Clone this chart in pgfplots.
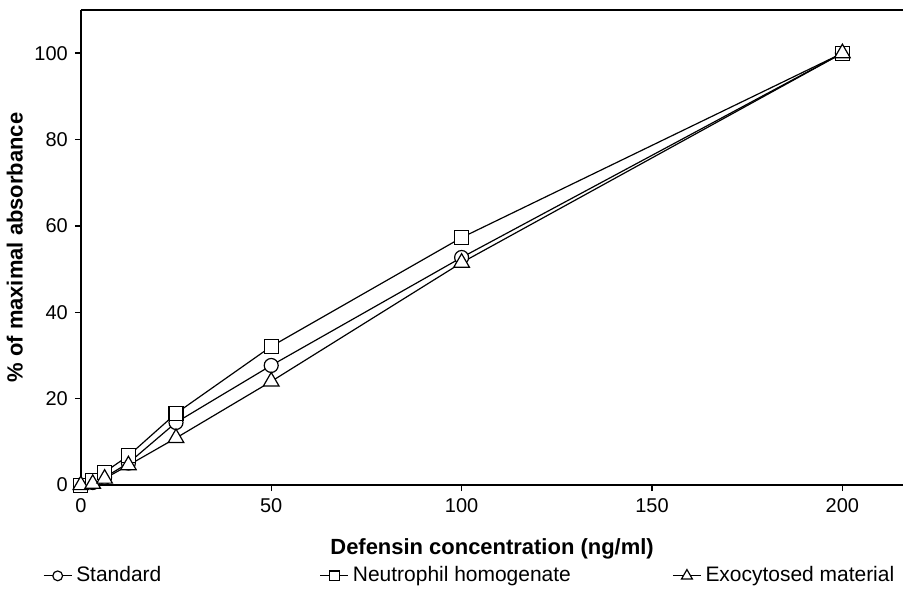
\documentclass[border=0pt]{standalone}
\usepackage{pgfplots}
\pgfplotsset{compat=1.18}
\usepackage{fontspec}
\setmainfont{Liberation Sans}

\begin{document}
\begin{tikzpicture}
    \begin{axis}[
            scale only axis,
            width=412pt,
            height=238pt,
            xmin=0, xmax=216,
            ymin=0, ymax=110,
            clip=false,
            axis x line=box,
            axis y line=left,
            axis line style={-, line width=0.7pt},
            xtick={0,50,100,150,200},
            ytick={0,20,40,60,80,100},
            xtick pos=lower,
            ytick pos=lower,
            tick align=outside,
            major tick length=3pt,
            tick style={line width=0.7pt, black},
            /pgf/number format/assume math mode=true,
            tick label style={font=\fontsize{10}{11}\selectfont},
            xlabel={Defensin concentration (ng/ml)},
            ylabel={\% of maximal absorbance},
            every axis x label/.style={at={(axis description cs:0.5,-0.1345)}, anchor=center,
                    font=\fontsize{11}{12}\selectfont\bfseries},
            every axis y label/.style={at={(axis description cs:-0.062,0.5)}, rotate=90, anchor=south,
                    font=\fontsize{11}{12}\selectfont\bfseries},
            legend columns=3,
            legend style={
                    draw=none,
                    at={(0.474,-0.191)},
                    anchor=center,
                    font=\fontsize{10.5}{12}\selectfont,
                    inner sep=0pt,
                },
            legend cell align=left,
            legend image code/.code={
                    \draw[mark repeat=2, mark phase=2, #1, every mark/.append style={scale=0.7}]
                    plot coordinates {(0pt,0pt) (7pt,0pt) (14pt,0pt)};
                },
            every axis plot/.append style={
                    black, line width=0.6pt,
                    mark options={fill=white, solid},
                },
        ]
        \addplot[mark=*, mark size=3.5pt] coordinates {
                (0,0) (3.125,0.6) (6.25,1.8) (12.5,5.1) (25,14.5) (50,27.7) (100,52.7) (200,100)
            };
        \addlegendentry{\makebox[120pt][l]{Standard}}
        \addplot[mark=square*, mark size=3.5pt] coordinates {
                (0,0) (3.125,1.0) (6.25,3.0) (12.5,6.8) (25,16.6) (50,32.1) (100,57.3) (200,100)
            };
        \addlegendentry{\makebox[158pt][l]{Neutrophil homogenate}}
        \addplot[mark=triangle*, mark size=4.5pt] coordinates {
                (0,0) (3.125,0.3) (6.25,1.5) (12.5,4.6) (25,10.9) (50,24.0) (100,51.5) (200,100)
            };
        \addlegendentry{Exocytosed material}
    \end{axis}
    \path (current axis.north) ++(0pt,5pt);
\end{tikzpicture}
\end{document}
